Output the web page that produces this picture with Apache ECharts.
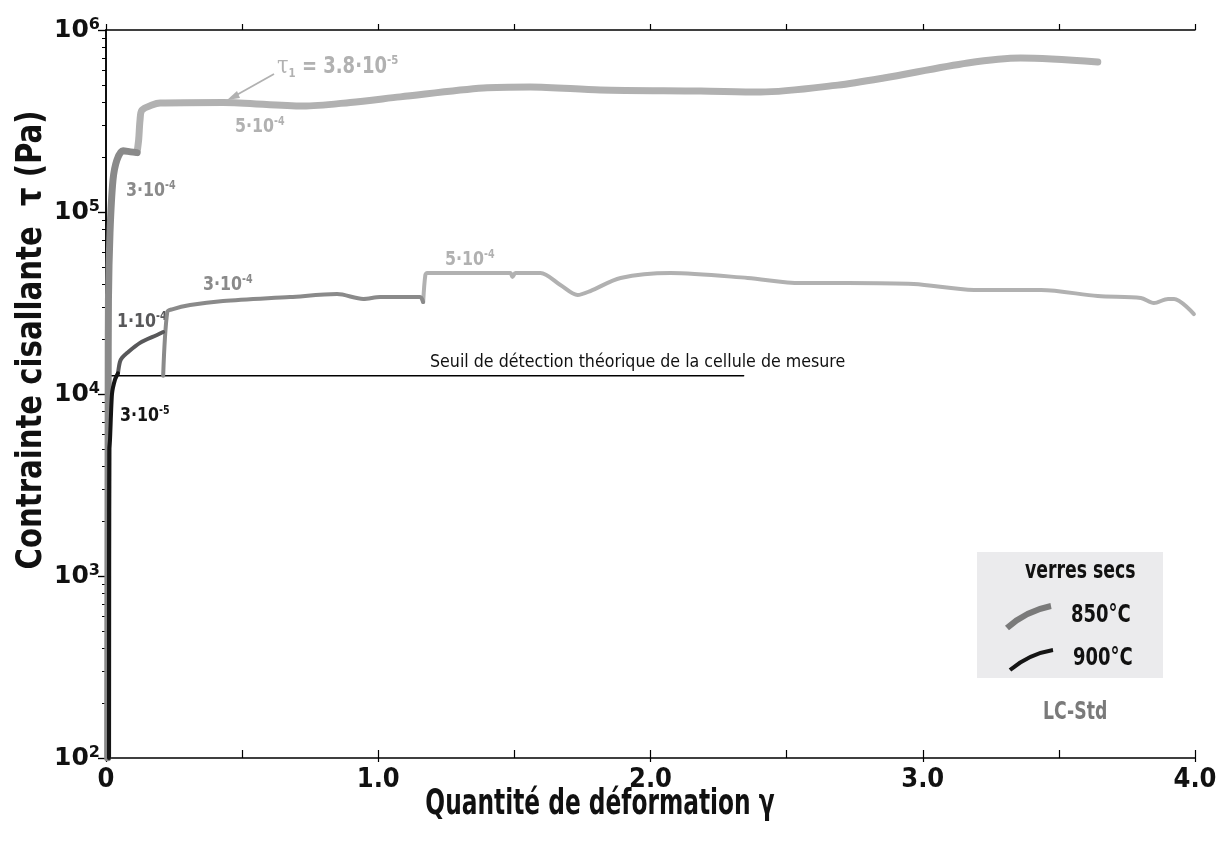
<!DOCTYPE html>
<html><head><meta charset="utf-8">
<script src="https://cdn.jsdelivr.net/npm/echarts@6/dist/echarts.min.js"></script>
<style>html,body{margin:0;padding:0;background:#fff}#c{width:1225px;height:845px}</style>
</head><body><div id="c"></div>
<script>
// ---- data (x = quantité de déformation γ, y = contrainte τ en Pa) ----
const upper850_3e4 = [[0.006,100],[0.007,1000],[0.008,1e4],[0.009,3.3e4],[0.0147,7.7e4],[0.0257,1.5e5],[0.040,1.93e5],[0.0625,2.17e5],[0.09,2.14e5],[0.114,2.12e5]];
const upper850_5e4 = [[0.114,2.12e5],[0.12,2.5e5],[0.125,3.2e5],[0.132,3.63e5],[0.169,3.87e5],[0.199,3.97e5],[0.43,4.0e5],[0.724,3.82e5],[0.897,4.0e5],[1.081,4.29e5],[1.386,4.80e5],[1.559,4.86e5],[1.816,4.68e5],[2.184,4.62e5],[2.404,4.56e5],[2.688,4.98e5],[2.857,5.45e5],[3.165,6.59e5],[3.36,7.02e5],[3.643,6.67e5]];
const black900_3e5 = [[0.011,100],[0.011,1000],[0.012,5000],[0.0147,5600],[0.022,1.0e4],[0.033,1.2e4],[0.044,1.3e4]];
const dark_1e4 = [[0.044,1.3e4],[0.051,1.5e4],[0.059,1.58e4],[0.077,1.68e4],[0.125,1.91e4],[0.1875,2.11e4],[0.21,2.19e4]];
const mid_3e4 = [[0.21,1.26e4],[0.225,2.82e4],[0.243,2.92e4],[0.309,3.08e4],[0.43,3.24e4],[0.676,3.41e4],[0.849,3.54e4],[0.945,3.33e4],[1.007,3.41e4],[1.118,3.41e4],[1.154,3.41e4],[1.165,3.2e4]];
const light_5e4 = [[1.165,3.2e4],[1.173,4.51e4],[1.18,4.62e4],[1.485,4.62e4],[1.493,4.40e4],[1.504,4.62e4],[1.596,4.62e4],[1.669,3.97e4],[1.732,3.50e4],[1.779,3.68e4],[1.890,4.34e4],[2.074,4.62e4],[2.357,4.34e4],[2.551,4.07e4],[2.724,4.07e4],[2.967,4.02e4],[3.188,3.73e4],[3.434,3.73e4],[3.643,3.45e4],[3.801,3.37e4],[3.849,3.16e4],[3.901,3.33e4],[3.923,3.33e4],[3.996,2.75e4]];
const seuil = [[0,1.26e4],[2.342,1.26e4]];
const xTickLabels = {0:'0',1:'1.0',2:'2.0',3:'3.0',4:'4.0'};
const yTickExponents = [2,3,4,5,6];

const minorY = [];
for (let e = 2; e < 6; e++) for (let m = 2; m <= 9; m++) minorY.push(m * Math.pow(10, e));

const NARROW = "'DejaVu Sans Condensed','DejaVu Sans',sans-serif";
const C_LIGHT = '#b1b1b1', C_MID = '#8a8a8a', C_DARK = '#58585a', C_BLACK = '#151515';

const chart = echarts.init(document.getElementById('c'));
function ln(name, data, color, width, smooth) {
  return {name, type:'line', data, showSymbol:false, symbol:'none', smooth: smooth||0,
    lineStyle:{color, width, cap:'round', join:'round'}, silent:true, animation:false};
}
function supText(x, y, main, sup, color, size) {
  return {type:'text', x, y, scaleX:0.88, style:{text:'{m|'+main+'}{s|'+sup+'}', textVerticalAlign:'middle',
    rich:{m:{fontSize:size, fontWeight:'bold', fontFamily:NARROW, fill:color, lineHeight:size+2},
          s:{fontSize:Math.round(size*0.6), fontWeight:'bold', fontFamily:NARROW, fill:color, verticalAlign:'top', lineHeight:Math.round(size*0.6)}}}};
}
function txt(x, y, text, size, color, sx, extra) {
  return Object.assign({type:'text', x, y, scaleX:sx, style:{text, textVerticalAlign:'middle', fontFamily:NARROW, fontWeight:'bold', fontSize:size, fill:color}}, extra||{});
}
const axisBlack = {lineStyle:{color:'#000', width:1.5}};
chart.setOption({
  animation:false,
  grid:{left:106, right:30, top:30, bottom:87, containLabel:false},
  xAxis:[
    {type:'value', min:0, max:4, interval:0.5, position:'bottom', axisLine:axisBlack,
     axisTick:{inside:true, length:8, lineStyle:{color:'#000', width:1.2}}, splitLine:{show:false},
     axisLabel:{margin:8, formatter:v => (xTickLabels[v] !== undefined ? xTickLabels[v] : ''),
       fontFamily:NARROW, fontWeight:'bold', fontSize:27, color:'#111'}},
    {type:'value', min:0, max:4, interval:0.5, position:'top', axisLine:axisBlack,
     axisTick:{inside:false, length:6, lineStyle:{color:'#000', width:1.2}}, splitLine:{show:false}, axisLabel:{show:false}},
    {type:'value', min:0, max:4, interval:1, position:'bottom', axisLine:{show:false},
     axisTick:{inside:false, length:4, lineStyle:{color:'#000', width:1.2}}, splitLine:{show:false}, axisLabel:{show:false}}
  ],
  yAxis:[
    {type:'log', logBase:10, min:100, max:1e6, position:'left', axisLine:axisBlack,
     axisTick:{inside:false, length:8, lineStyle:{color:'#000', width:1.2}}, splitLine:{show:false}, minorTick:{show:false},
     axisLabel:{margin:6, formatter:v => '{b|10}{s|' + yTickExponents[Math.round(Math.log10(v)) - 2] + '}',
       rich:{b:{fontFamily:'DejaVu Sans', fontWeight:'bold', fontSize:25, color:'#111', lineHeight:27},
             s:{fontFamily:'DejaVu Sans', fontWeight:'bold', fontSize:16, color:'#111', verticalAlign:'top', lineHeight:16}}}},
    {type:'log', logBase:10, min:100, max:1e6, position:'left', axisLine:{show:false},
     axisTick:{show:true, inside:false, length:4, customValues:minorY, lineStyle:{color:'#000', width:1}},
     axisLabel:{show:false}, splitLine:{show:false}},
    {type:'log', logBase:10, min:100, max:1e6, position:'right', axisLine:axisBlack,
     axisTick:{inside:true, length:8, lineStyle:{color:'#000', width:1.2}}, axisLabel:{show:false}, splitLine:{show:false}}
  ],
  series:[
    ln('seuil', seuil, '#000', 1.5),
    ln('850 5e-4 haut', upper850_5e4, C_LIGHT, 7, 0.3),
    ln('850 3e-4 haut', upper850_3e4, C_MID, 7, 0.3),
    ln('5e-4 bas', light_5e4, C_LIGHT, 4, 0.3),
    ln('3e-4 bas', mid_3e4, C_MID, 4, 0.3),
    ln('1e-4', dark_1e4, C_DARK, 4, 0.3),
    ln('900 3e-5', black900_3e5, C_BLACK, 4, 0.2)
  ],
  graphic:[
    txt(32, 340, 'Contrainte cisallante  τ (Pa)', 36, '#111', 0.9, {rotation:Math.PI/2, style:{text:'Contrainte cisallante  τ (Pa)', textAlign:'center', textVerticalAlign:'middle', fontFamily:NARROW, fontWeight:'bold', fontSize:36, fill:'#111'}}),
    txt(600, 805, 'Quantité de déformation γ', 35, '#111', 0.74, {style:{text:'Quantité de déformation γ', textAlign:'center', textVerticalAlign:'middle', fontFamily:NARROW, fontWeight:'bold', fontSize:35, fill:'#111'}}),
    {type:'text', x:430, y:362, scaleX:0.98, style:{text:'Seuil de détection théorique de la cellule de mesure', textVerticalAlign:'middle',
      fontFamily:NARROW, fontSize:18, fill:'#111'}},
    supText(126, 191, '3·10', '-4', C_MID, 20),
    supText(235, 127, '5·10', '-4', C_LIGHT, 20),
    supText(203, 285, '3·10', '-4', C_MID, 20),
    supText(117, 322, '1·10', '-4', C_DARK, 20),
    supText(120, 416, '3·10', '-5', C_BLACK, 20),
    supText(445, 260, '5·10', '-4', C_LIGHT, 20),
    {type:'text', x:277, y:67, scaleX:0.87, style:{text:'{t|τ}{i|1}{m| = 3.8·10}{s|-5}', textVerticalAlign:'middle',
      rich:{t:{fontSize:24, fontFamily:'DejaVu Serif', fill:C_LIGHT, lineHeight:26},
            i:{fontSize:13, fontWeight:'bold', fontFamily:NARROW, fill:C_LIGHT, verticalAlign:'bottom', lineHeight:13},
            m:{fontSize:23, fontWeight:'bold', fontFamily:NARROW, fill:C_LIGHT, lineHeight:26},
            s:{fontSize:13, fontWeight:'bold', fontFamily:NARROW, fill:C_LIGHT, verticalAlign:'top', lineHeight:13}}}},
    {type:'line', shape:{x1:274, y1:74, x2:233, y2:97}, style:{stroke:C_LIGHT, lineWidth:1.8}},
    {type:'polygon', shape:{points:[[227,100],[237,91],[240,98]]}, style:{fill:C_LIGHT}},
    // legend
    {type:'rect', shape:{x:977, y:552, width:186, height:126}, style:{fill:'#ebebed'}, z:5},
    txt(1025, 572, 'verres secs', 24, '#111', 0.8, {z:6}),
    {type:'bezierCurve', z:6, shape:{x1:1007, y1:628, x2:1051, y2:606, cpx1:1026, cpy1:611}, style:{stroke:'#7a7a7a', lineWidth:6, fill:null}},
    txt(1071, 615, '850°C', 25, '#111', 0.8, {z:6}),
    {type:'bezierCurve', z:6, shape:{x1:1010, y1:670, x2:1053, y2:650, cpx1:1029, cpy1:654}, style:{stroke:C_BLACK, lineWidth:4, fill:null}},
    txt(1073, 658, '900°C', 25, '#111', 0.8, {z:6}),
    txt(1043, 713, 'LC-Std', 24, '#7a7a7a', 0.8)
  ]
});
</script></body></html>
